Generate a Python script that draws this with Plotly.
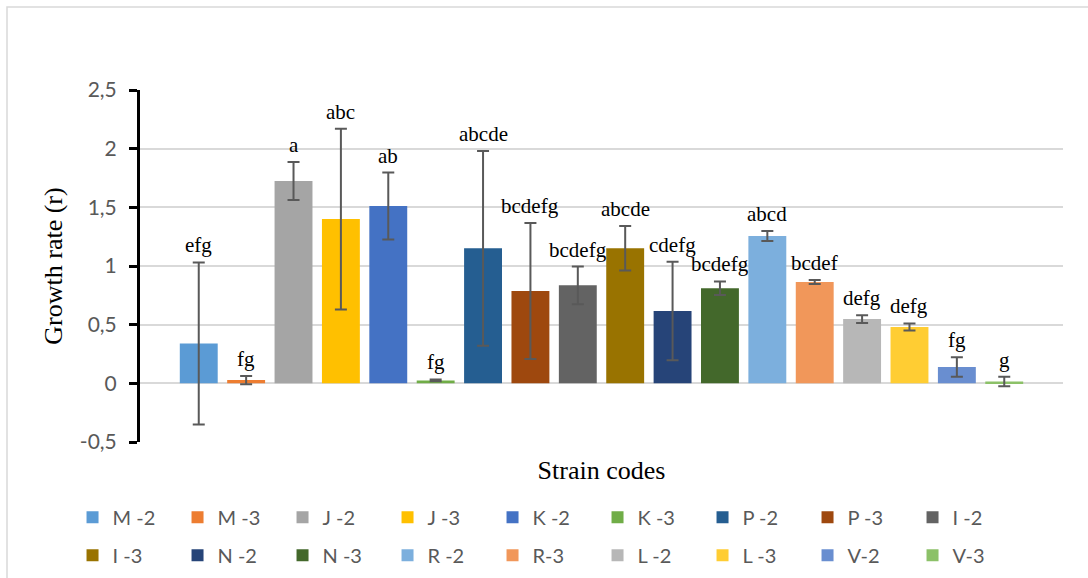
import plotly.graph_objects as go

# ---- data ----
strains = ["M -2", "M -3", "J -2", "J -3", "K -2", "K -3", "P -2", "P -3", "I -2",
           "I -3", "N -2", "N -3", "R -2", "R-3", "L -2", "L -3", "V-2", "V-3"]
growth_rate = [0.34, 0.028, 1.724, 1.40, 1.511, 0.025, 1.151, 0.787, 0.835,
               1.151, 0.616, 0.81, 1.256, 0.864, 0.548, 0.48, 0.139, 0.016]
std_err = [0.69, 0.035, 0.162, 0.77, 0.285, 0.008, 0.83, 0.58, 0.16,
           0.19, 0.42, 0.058, 0.042, 0.017, 0.033, 0.03, 0.083, 0.04]
letters = ["efg", "fg", "a", "abc", "ab", "fg", "abcde", "bcdefg", "bcdefg",
           "abcde", "cdefg", "bcdefg", "abcd", "bcdef", "defg", "defg", "fg", "g"]
y_tick_values = [-0.5, 0, 0.5, 1, 1.5, 2, 2.5]
y_tick_labels = ["-0,5", "0", "0,5", "1", "1,5", "2", "2,5"]

# ---- styles ----
COLORS = ["#5B9BD5", "#ED7D31", "#A5A5A5", "#FFC000", "#4472C4", "#70AD47",
          "#255E91", "#9E480E", "#636363", "#997300", "#264478", "#43682B",
          "#7CAFDD", "#F1975A", "#B7B7B7", "#FFCD33", "#698ED0", "#8CC168"]
SERIF = "Liberation Serif, Times New Roman, serif"
SANS = "Lato, Open Sans, sans-serif"
GREY_TXT = "#595959"
GRID = "#D9D9D9"

fig = go.Figure()
n = len(strains)
for i in range(n):
    fig.add_trace(go.Bar(
        x=[i], y=[growth_rate[i]], name=strains[i], width=0.8,
        marker=dict(color=COLORS[i], line=dict(width=0)),
        error_y=dict(type="data", array=[std_err[i]], visible=True,
                     color="#595959", thickness=2, width=6),
        legend="legend" if i < 9 else "legend2",
    ))
    fig.add_annotation(
        x=i, y=growth_rate[i] + std_err[i], text=letters[i], showarrow=False,
        yanchor="bottom", xanchor="center", yshift=3,
        font=dict(family=SERIF, size=21, color="#000000"),
    )

# light outer chart border
fig.add_shape(type="rect", xref="paper", yref="paper",
              x0=-0.1441, x1=1.04, y0=-0.5, y1=1.236,
              line=dict(color=GRID, width=1.5), fillcolor="rgba(0,0,0,0)", layer="below")

legend_common = dict(orientation="h", x=-0.0731, xanchor="left", yanchor="middle",
                     entrywidth=60, entrywidthmode="pixels", traceorder="normal",
                     font=dict(family=SANS, size=20, color=GREY_TXT),
                     bgcolor="rgba(0,0,0,0)")

fig.update_layout(
    width=1088, height=578,
    margin=dict(l=140, r=25, t=90, b=136, autoexpand=False),
    paper_bgcolor="white", plot_bgcolor="white",
    barmode="overlay",
    showlegend=True,
    legend=dict(legend_common, y=-0.2141),
    legend2=dict(legend_common, y=-0.322),
    xaxis=dict(range=[-1.24, 18.24], showticklabels=False, showgrid=False,
               zeroline=False, showline=False, ticks="",
               title=dict(text="Strain codes", standoff=18,
                          font=dict(family=SERIF, size=26, color="#000000"))),
    yaxis=dict(range=[-0.5, 2.5], tickvals=y_tick_values, ticktext=y_tick_labels,
               showgrid=True, gridcolor=GRID, gridwidth=1.5,
               zeroline=True, zerolinecolor=GRID, zerolinewidth=1.5,
               showline=True, linecolor="#000000", linewidth=3,
               ticks="outside", ticklen=8, tickwidth=3, tickcolor="#000000",
               ticklabelstandoff=8,
               tickfont=dict(family=SANS, size=21, color=GREY_TXT),
               title=dict(text="Growth rate (r)", standoff=10,
                          font=dict(family=SERIF, size=26, color="#000000"))),
)

fig.write_html("out.html")
